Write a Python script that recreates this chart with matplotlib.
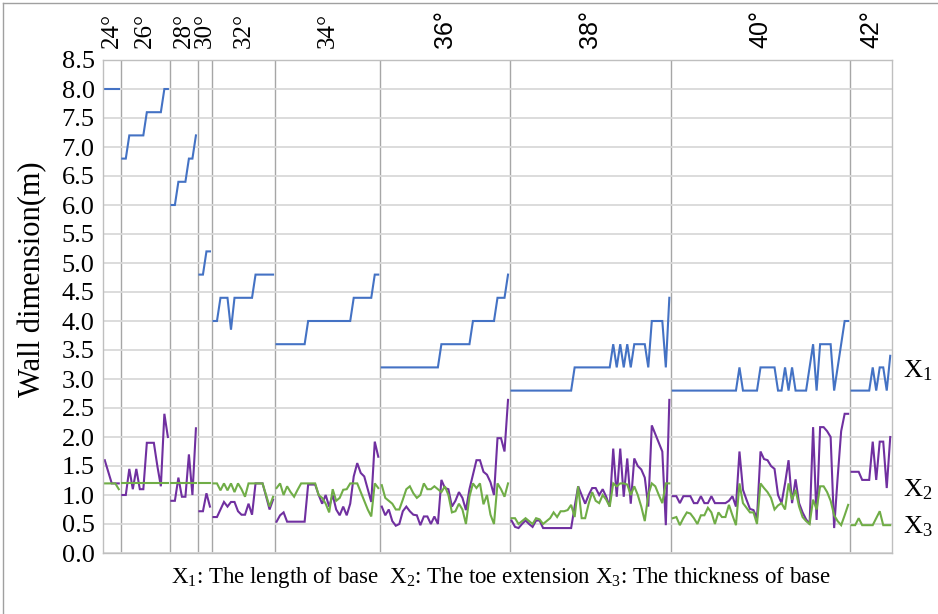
import matplotlib
matplotlib.use("Agg")
import matplotlib.pyplot as plt
from matplotlib.lines import Line2D
import numpy as np

plt.rcParams["font.family"] = "Liberation Serif"
plt.rcParams["mathtext.fontset"] = "custom"
plt.rcParams["mathtext.rm"] = "Liberation Serif"
plt.rcParams["mathtext.it"] = "Liberation Serif:italic"

BLUE, PURPLE, GREEN = "#4472c4", "#7030a0", "#70ad47"
GRID, SEP = "#d9d9d9", "#a6a6a6"

# friction angle groups (top category axis)
ANGLES = ["24°", "26°", "28°", "30°", "32°", "34°", "36°", "38°", "40°", "42°"]
SERIF_LABELS = 6  # first labels drawn in serif, the rest in sans like the source

# X1: length of base, one list per angle group
X1 = [
    [8.0, 8.0, 8.0, 8.0, 8.0],
    [6.8, 6.8, 7.2, 7.2, 7.2, 7.2, 7.2, 7.6, 7.6, 7.6, 7.6, 7.6, 8.0, 8.0],
    [6.0, 6.0, 6.4, 6.4, 6.4, 6.8, 6.8, 7.2],
    [4.8, 4.8, 5.2, 5.2],
    [4.0, 4.0, 4.4, 4.4, 4.4, 3.85, 4.4, 4.4, 4.4, 4.4, 4.4, 4.4, 4.8, 4.8, 4.8, 4.8, 4.8, 4.8],
    [3.6] * 9 + [4.0] * 13 + [4.4] * 6 + [4.8] * 2,
    [3.2] * 17 + [3.6] * 9 + [4.0] * 7 + [4.4] * 3 + [4.8],
    [2.8] * 18 + [3.2] * 11 + [3.6, 3.2, 3.6, 3.2, 3.6, 3.2, 3.6, 3.6, 3.6, 3.6, 3.2]
    + [4.0] * 4 + [3.2, 4.4],
    [2.8] * 19 + [3.2] + [2.8] * 5 + [3.2] * 5 + [2.8, 2.8, 3.2, 2.8, 3.2, 2.8, 2.8, 2.8, 2.8,
                                                   3.2, 3.6, 2.8, 3.6, 3.6, 3.6, 3.6, 2.8, 3.2,
                                                   3.6, 4.0, 4.0],
    [2.8, 2.8, 2.8, 2.8, 2.8, 2.8, 3.2, 2.8, 3.2, 3.2, 2.8, 3.4],
]

# X2: toe extension
X2 = [
    [1.6, 1.4, 1.2, 1.2, 1.2],
    [1.0, 1.0, 1.45, 1.1, 1.45, 1.1, 1.1, 1.9, 1.9, 1.9, 1.5, 1.15, 2.4, 2.0],
    [0.9, 0.9, 1.3, 0.97, 0.97, 1.7, 1.0, 2.15],
    [0.72, 0.72, 1.03, 0.8],
    [0.62, 0.62, 0.75, 0.88, 0.8, 0.88, 0.88, 0.72, 0.66, 0.66, 0.85, 0.66, 1.2, 1.2, 1.2,
     0.98, 0.75, 0.92],
    [0.54, 0.65, 0.7, 0.54, 0.54, 0.54, 0.54, 0.54, 0.54, 1.18, 1.18, 1.18, 1.0, 0.85, 1.0,
     0.8, 1.0, 0.75, 0.65, 0.8, 0.65, 0.85, 1.32, 1.55, 1.38, 1.32, 1.1, 0.88, 1.92, 1.66],
    [0.8, 0.65, 0.75, 0.55, 0.47, 0.5, 0.72, 0.8, 0.72, 0.66, 0.65, 0.48, 0.63, 0.63, 0.5,
     0.63, 0.5, 1.26, 1.12, 1.1, 0.8, 0.9, 1.05, 0.95, 0.74, 1.1, 1.35, 1.6, 1.6, 1.4, 1.35,
     1.22, 1.0, 1.98, 1.98, 1.75, 2.64],
    [0.56, 0.45, 0.43, 0.5, 0.56, 0.5, 0.45, 0.56, 0.56, 0.43, 0.43, 0.43, 0.43, 0.43, 0.43,
     0.43, 0.43, 0.43, 0.8, 1.15, 1.0, 0.85, 1.0, 1.12, 1.12, 1.0, 1.1, 0.97, 0.8, 1.8, 0.97,
     1.8, 0.97, 1.63, 0.85, 1.63, 1.5, 1.44, 1.3, 0.8, 2.2, 2.05, 1.9, 1.75, 0.48, 2.64],
    [0.98, 0.98, 0.86, 0.98, 0.98, 0.98, 0.86, 0.86, 0.98, 0.86, 0.86, 0.98, 0.86, 0.86, 0.86,
     0.86, 0.9, 0.98, 0.8, 1.75, 1.09, 0.92, 0.76, 0.74, 0.6, 1.75, 1.62, 1.6, 1.5, 1.45, 1.0,
     0.86, 1.2, 1.6, 0.86, 1.27, 0.86, 0.7, 0.58, 0.5, 2.17, 0.57, 2.17, 2.17, 2.1, 2.0, 0.43,
     1.3, 2.1, 2.4, 2.4],
    [1.4, 1.4, 1.4, 1.26, 1.26, 1.26, 1.92, 1.26, 1.92, 1.92, 1.12, 2.0],
]

# X3: thickness of base
X3 = [
    [1.2, 1.2, 1.2, 1.2, 1.1],
    [1.2] * 14,
    [1.2] * 8,
    [1.2] * 4,
    [1.2, 1.2, 1.08, 1.2, 1.08, 1.2, 1.05, 1.2, 1.1, 0.97, 1.2, 1.2, 1.2, 1.2, 1.2, 1.0,
     0.8, 0.97],
    [1.12, 1.2, 1.0, 1.15, 1.05, 0.97, 1.09, 1.2, 1.2, 1.2, 1.2, 1.2, 1.0, 0.95, 0.85, 0.7,
     1.1, 0.9, 0.95, 1.09, 1.1, 1.2, 1.2, 1.2, 1.05, 0.9, 0.75, 0.63, 1.2, 1.12],
    [1.17, 0.95, 0.9, 0.85, 0.75, 0.75, 0.92, 1.1, 1.15, 1.03, 0.95, 1.0, 1.2, 1.1, 1.1,
     1.15, 1.1, 1.05, 1.15, 1.0, 0.7, 0.72, 0.85, 0.75, 0.5, 0.97, 1.2, 1.12, 1.2, 0.84, 1.0,
     0.66, 0.5, 1.2, 1.1, 0.97, 1.2],
    [0.6, 0.6, 0.5, 0.55, 0.6, 0.55, 0.5, 0.6, 0.58, 0.5, 0.55, 0.6, 0.7, 0.62, 0.72, 0.72,
     0.74, 0.83, 0.62, 1.15, 0.6, 0.6, 0.85, 1.05, 0.9, 0.86, 1.0, 0.92, 0.8, 1.2, 1.15, 1.2,
     1.2, 1.18, 1.0, 1.15, 1.0, 0.8, 0.55, 1.0, 1.2, 1.15, 1.0, 0.86, 1.2, 1.2],
    [0.6, 0.62, 0.48, 0.6, 0.7, 0.68, 0.6, 0.5, 0.65, 0.65, 0.78, 0.7, 0.5, 0.7, 0.62, 0.62,
     0.83, 0.65, 0.48, 1.2, 0.86, 0.78, 0.7, 0.7, 0.5, 1.2, 1.12, 1.05, 0.95, 0.75, 0.82,
     0.86, 0.75, 1.2, 0.92, 1.09, 0.8, 0.62, 0.55, 0.5, 0.92, 0.75, 1.15, 1.15, 1.05, 0.9,
     0.65, 0.55, 0.48, 0.65, 0.83],
    [0.48, 0.48, 0.6, 0.48, 0.48, 0.48, 0.48, 0.6, 0.72, 0.48, 0.48, 0.48],
]

SERIES = [(X1, BLUE, "X$_1$", 3.15), (X2, PURPLE, "X$_2$", 1.1), (X3, GREEN, "X$_3$", 0.45)]
CAPTION = "X$_1$: The length of base  X$_2$: The toe extension X$_3$: The thickness of base"

fig = plt.figure(figsize=(9.38, 6.14), dpi=100)
ax = fig.add_axes([103 / 938, 1 - 553 / 614, 789 / 938, 493 / 614])

counts = [len(s) for s in X1]
starts = np.concatenate([[0], np.cumsum(counts)[:-1]])
total = sum(counts)

for data, color, _, _ in SERIES:
    for st, seg in zip(starts, data):
        ax.plot(st + np.arange(len(seg)), seg, color=color, lw=1.5, solid_joinstyle="miter")

for st in starts[1:]:
    ax.axvline(st - 0.5, color=SEP, lw=1.0, zorder=0.5)

ax.set_xlim(-0.5, total - 0.5)
ax.set_ylim(0, 8.5)
ax.set_yticks(np.arange(0, 8.51, 0.5))
ax.set_yticklabels([f"{v:.1f}" for v in np.arange(0, 8.51, 0.5)], fontsize=19)
ax.set_xticks([])
ax.tick_params(axis="y", length=0, pad=6)
ax.yaxis.grid(True, color=GRID, lw=1.3)
ax.set_axisbelow(True)
for sp in ax.spines.values():
    sp.set_color("#bfbfbf")
    sp.set_linewidth(1.0)
ax.set_ylabel("Wall dimension(m)", fontsize=22)
ax.yaxis.set_label_coords(-0.071, 0.555)

for i, (st, n, lab) in enumerate(zip(starts, counts, ANGLES)):
    fam = "Liberation Serif" if i < SERIF_LABELS else "Liberation Sans"
    ax.annotate(lab, (st + (n - 1) / 2, 1.0), xycoords=("data", "axes fraction"),
                xytext=(0, 9), textcoords="offset points", rotation=90,
                ha="center", va="bottom", fontsize=18, family=fam)

for _, _, lab, yv in SERIES:
    ax.annotate(lab, (1.0, yv), xycoords=("axes fraction", "data"), xytext=(8, 0),
                textcoords="offset points", ha="left", va="center", fontsize=19)

fig.text(501 / 938, 1 - 578 / 614, CAPTION, ha="center", va="center", fontsize=16.5)

# outer frame of the source image
fig.add_artist(Line2D([3 / 938, 3 / 938], [0, 1 - 3 / 614], color="#a0a0a0", lw=1.0))
fig.add_artist(Line2D([3 / 938, 1], [1 - 3 / 614, 1 - 3 / 614], color="#a0a0a0", lw=1.0))

fig.savefig("out.png", dpi=100)
